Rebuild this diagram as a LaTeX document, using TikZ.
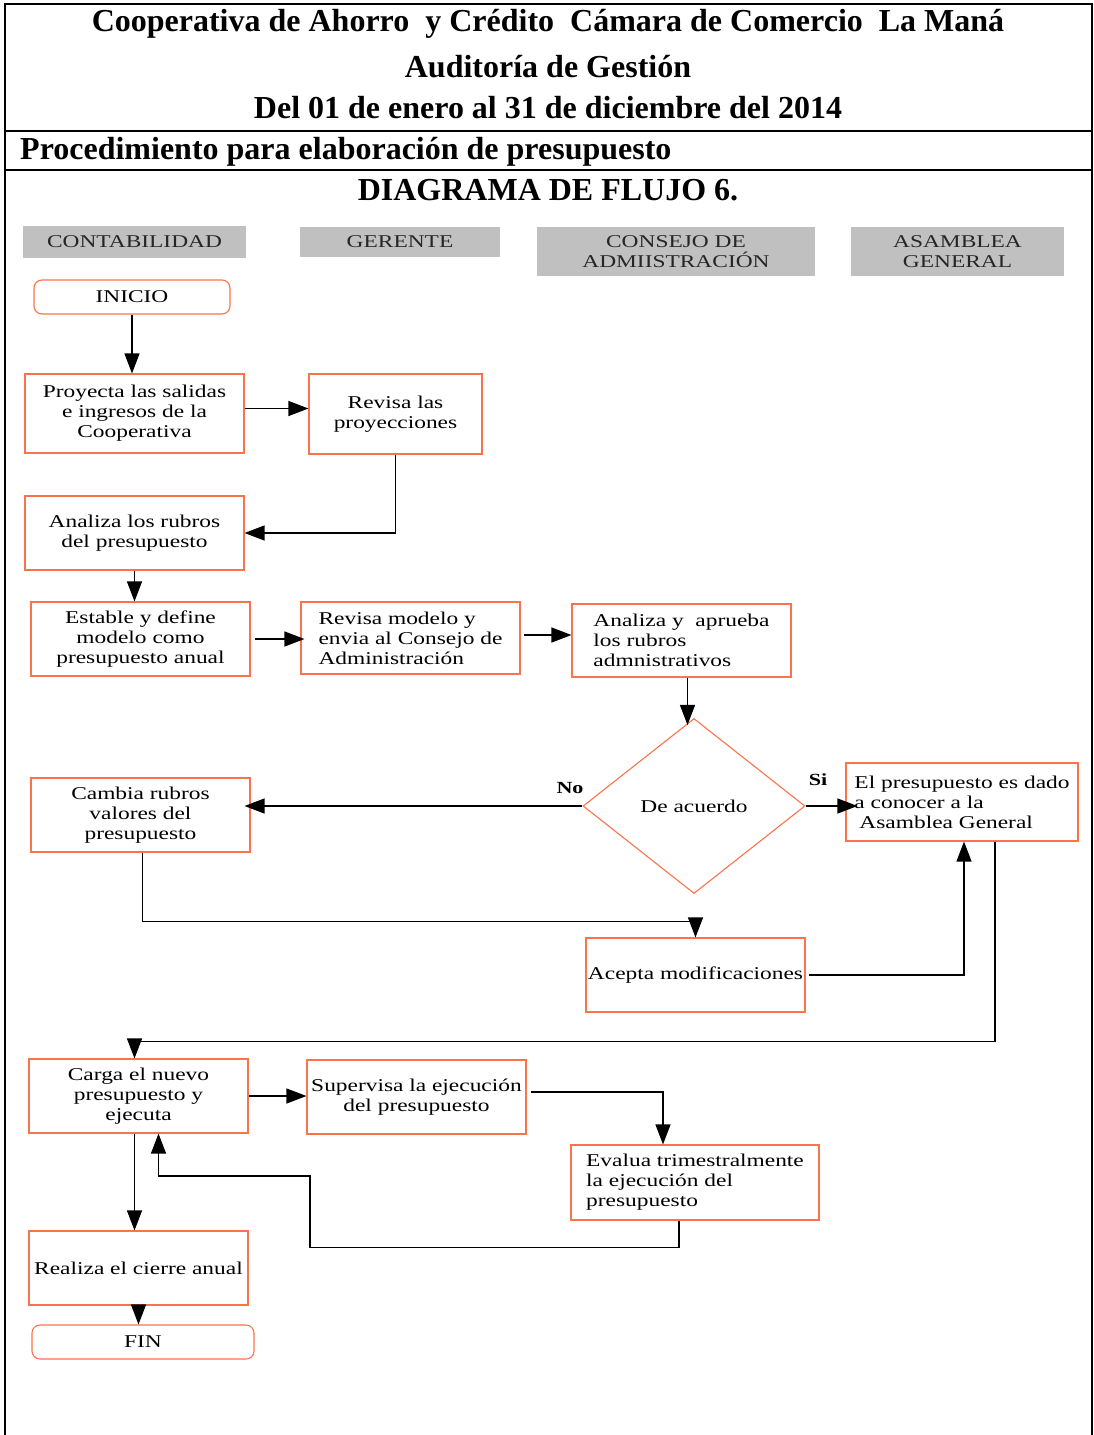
\documentclass[tikz,border=0pt]{standalone}
\usepackage{fontspec}
\setmainfont{Liberation Serif}
\newfontfamily\cajafont{Liberation Serif}[FakeStretch=1.3]
\usetikzlibrary{arrows.meta,positioning,shapes.geometric}

\definecolor{borde}{RGB}{250,115,75}
\definecolor{gris}{RGB}{192,192,192}

\tikzset{
    titulo/.style={font=\bfseries\fontsize{32}{35}\selectfont},
    carril/.style={fill=gris, text=black!85, align=center, inner sep=0pt,
        font=\cajafont\fontsize{18}{20}\selectfont},
    proceso/.style={draw=borde, line width=1.1pt, align=center, inner sep=0pt,
        minimum width=219pt, minimum height=74pt,
        font=\cajafont\fontsize{18}{20}\selectfont},
    terminal/.style={proceso, rounded corners=8pt, minimum height=34pt},
    decision/.style={proceso, diamond, minimum width=222pt, minimum height=175pt},
    flujo/.style={draw, line width=1.2pt, -{Triangle[length=20pt,width=15pt]}},
    rama/.style={font=\cajafont\bfseries\fontsize{17}{19}\selectfont},
}

\begin{document}
\begin{tikzpicture}[x=1pt, y=-1pt]
\useasboundingbox (0,0) rectangle (1093,1435);

% marco y encabezado
\draw[line width=2pt] (5,1435) |- (1092,4) -- (1092,1435);
\draw[line width=2pt] (5,131) -- (1092,131);
\draw[line width=2pt] (5,170) -- (1092,170);
\node[titulo] (t1) at (548,24) {Cooperativa de Ahorro \ y Crédito \ Cámara de Comercio \ La Maná};
\node[titulo] (t2) at (548,67) {Auditoría de Gestión};
\node[titulo] (t3) at (548,108) {Del 01 de enero al 31 de diciembre del 2014};
\node[titulo, anchor=west, inner sep=0pt] (t4) at (20,152) {Procedimiento para elaboración de presupuesto};
\node[titulo] (t5) at (548,190) {DIAGRAMA DE FLUJO 6.};

% carriles
\node[carril, minimum width=223pt, minimum height=32pt] (contab) at (134.5,242) {CONTABILIDAD};
\node[carril, minimum width=200pt, minimum height=30pt] (gerente) at (400,242) {GERENTE};
\node[carril, minimum width=278pt, minimum height=49pt] (consejo) at (676,251.5) {CONSEJO DE\\ADMIISTRACIÓN};
\node[carril, minimum width=213pt, minimum height=49pt] (asamblea) at (957.5,251.5) {ASAMBLEA\\GENERAL};

% pasos
\node[terminal, minimum width=196pt] (inicio) at (132,297) {INICIO};
\node[proceso, minimum height=79pt] (proyecta) at (134.5,413.5) {Proyecta las salidas\\e ingresos de la\\Cooperativa};
\node[proceso, minimum width=173pt, minimum height=80pt] (revisa) at (395.5,414) {Revisa las\\proyecciones};
\node[proceso] (analiza) at (134.5,533) {Analiza los rubros\\del presupuesto};
\node[proceso] (estable) at (140.5,639) {Estable y define\\modelo como\\presupuesto anual};
\node[proceso, minimum height=72pt, align=left] (revmodelo) at (410.5,638) {Revisa modelo y\\envia al Consejo de\\Administración};
\node[proceso, minimum height=73pt, align=left] (aprueba) at (681.5,640.5) {Analiza y \ aprueba\\los rubros\\admnistrativos};
\node[decision] (acuerdo) at (694,806) {De acuerdo};
\node[proceso, minimum width=232pt, minimum height=78pt, align=left] (dado) at (962,802) {El presupuesto es dado\\a conocer a la\\\hspace*{5pt}Asamblea General};
\node[proceso] (cambia) at (140.5,815) {Cambia rubros\\valores del\\presupuesto};
\node[proceso] (acepta) at (695.5,975) {Acepta modificaciones};
\node[proceso] (carga) at (138.5,1096) {Carga el nuevo\\presupuesto y\\ejecuta};
\node[proceso] (supervisa) at (416.5,1097) {Supervisa la ejecución\\del presupuesto};
\node[proceso, minimum width=248pt, minimum height=75pt, align=left] (evalua) at (695,1182.5) {Evalua trimestralmente\\la ejecución del\\presupuesto};
\node[proceso] (cierre) at (138.5,1268) {Realiza el cierre anual};
\node[terminal, minimum width=222pt] (fin) at (143,1342) {FIN};

\node[rama] (no) at (570,788) {No};
\node[rama] (si) at (818,780) {Si};

% conectores
\draw[flujo] (inicio.south) -- (inicio.south |- proyecta.north);
\draw[flujo] ([yshift=5pt]proyecta.east) -- ([yshift=5pt]proyecta.east -| revisa.west);
\draw[flujo] (revisa.south) |- (analiza.east);
\draw[flujo] (analiza.south) -- (analiza.south |- estable.north);
\draw[flujo] ([xshift=4pt]estable.east) -- ([xshift=4pt]estable.east -| revmodelo.west);
\draw[flujo] ([xshift=3pt,yshift=3pt]revmodelo.east) -- ([yshift=3pt]revmodelo.east -| aprueba.west);
\draw[flujo] ([xshift=6pt]aprueba.south) -- ([xshift=6pt,yshift=-7pt]aprueba.south |- acuerdo.north);
\draw[flujo] (acuerdo.east) -- ([xshift=12pt]acuerdo.east -| dado.west);
\draw[flujo] (acuerdo.west) -- ([xshift=-6pt]acuerdo.west -| cambia.east);
\draw[flujo] ([xshift=2pt]cambia.south) -- ++(0,69) -| (acepta.north);
\draw[flujo] ([xshift=3pt]acepta.east) -| ([xshift=2pt]dado.south);
\draw[flujo] ([xshift=33pt]dado.south) -- ++(0,200) -| ([xshift=-4pt]carga.north);
\draw[flujo] (carga.east) -- (carga.east -| supervisa.west);
\draw[flujo] ([xshift=4pt,yshift=5pt]supervisa.east) -| ([xshift=-32pt]evalua.north);
\coordinate (vuelta) at (310,1176);
\draw[flujo] ([xshift=-16pt]evalua.south) -- ++(0,27) -| (vuelta) -| ([xshift=20pt]carga.south);
\draw[flujo] ([xshift=-4pt]carga.south) -- ([xshift=-4pt]cierre.north);
\draw[flujo] (cierre.south) -- (cierre.south |- fin.north);
\end{tikzpicture}
\end{document}
